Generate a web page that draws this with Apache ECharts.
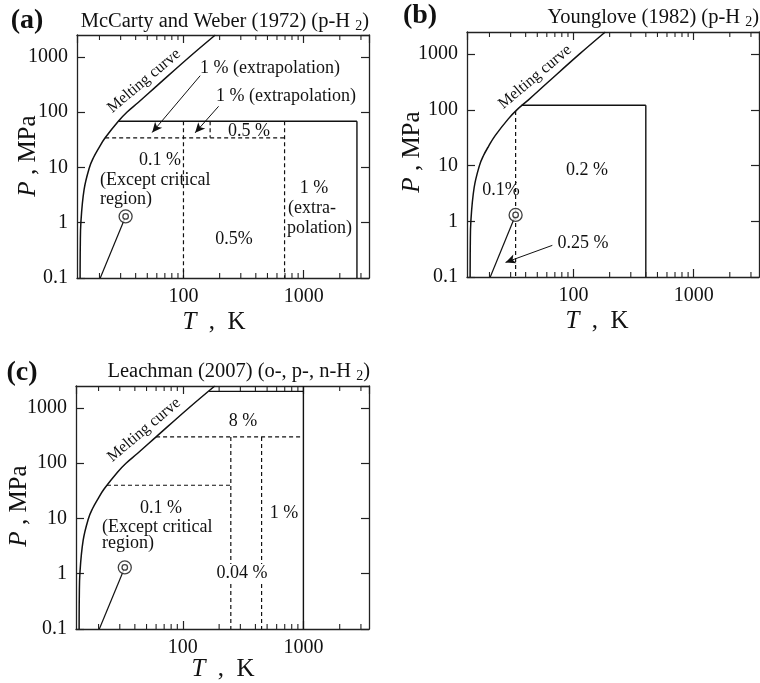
<!DOCTYPE html>
<html>
<head>
<meta charset="utf-8">
<script src="https://cdn.jsdelivr.net/npm/echarts@6/dist/echarts.min.js"></script>
<style>
  html, body { margin: 0; padding: 0; background: #fff; }
  #chart { width: 760px; height: 683px; }
</style>
</head>
<body>
<div id="chart"></div>
<script>
// ---- shared curves (T in K, P in MPa) ----
const meltT = [13.8, 13.85, 14.0, 14.9, 16.5, 17.8, 19.6, 22.3, 28.7, 33.8, 42, 60, 112, 184];
const meltP = [0.1, 0.4, 1, 4, 10, 15, 22, 34.5, 68.9, 100, 150, 300, 1000, 2500];
const vapT = [20.3, 33];
const vapP = [0.1, 1.3];
const critT = 33;
const critP = 1.3;

// ---- axis ranges and tick values ----
const tRange = [13, 3500];
const pRange = [0.1, 2500];
const minorT = [20, 30, 40, 50, 60, 70, 80, 90, 200, 300, 400, 500, 600, 700, 800, 900, 2000, 3000];

// ---- (a) McCarty and Weber: range boundaries [from, to] ----
const aSolid = [[[28.7, 68.9], [2778, 68.9]], [[2778, 68.9], [2778, 0.1]]];
const aDashed = [
  [[22.3, 34.5], [694, 34.5]],
  [[100, 68.9], [100, 0.1]],
  [[166.7, 68.9], [166.7, 34.5]],
  [[694, 68.9], [694, 0.1]]
];
const aArrows = [[[137.8, 459], [54.9, 43]], [[196, 128], [125, 42.4]]];

// ---- (b) Younglove ----
const bSolid = [[[37, 121], [400, 121]], [[400, 121], [400, 0.1]]];
const bDashed = [[[33, 95], [33, 0.1]]];
const bArrows = [[[66.7, 0.37], [27.2, 0.183]]];

// ---- (c) Leachman ----
const cSolid = [[[165, 2000], [1000, 2000]], [[1000, 2500], [1000, 0.1]]];
const cDashed = [
  [[60, 300], [1000, 300]],
  [[23.5, 40], [250, 40]],
  [[250, 300], [250, 0.1]],
  [[450, 300], [450, 0.1]]
];
const cArrows = [];

const FONT = "'Liberation Serif', 'Times New Roman', Times, serif";
const INK = '#111';
const AX = '#222';

const grids = [
  { left: 77, top: 35, width: 292, height: 243 },
  { left: 467, top: 32, width: 292, height: 245 },
  { left: 76, top: 386, width: 293, height: 243 }
];

const fmt = v => String(+Number(v).toPrecision(3));

function axesFor(g) {
  const common = {
    type: 'log', logBase: 10, gridIndex: g,
    splitLine: { show: false },
    axisLine: { show: true, onZero: false, lineStyle: { color: AX, width: 1.3 } },
    axisTick: { show: true, inside: true, length: 8, lineStyle: { color: AX, width: 1.2 } }
  };
  const lbl = { color: INK, fontSize: 20, fontFamily: FONT, formatter: fmt };
  const xs = [
    Object.assign({}, common, { min: tRange[0], max: tRange[1], position: 'bottom',
      axisLabel: Object.assign({ show: true, margin: 9, showMinLabel: false, showMaxLabel: false }, lbl) }),
    Object.assign({}, common, { min: tRange[0], max: tRange[1], position: 'top', axisLabel: { show: false } })
  ];
  const ys = [
    Object.assign({}, common, { min: pRange[0], max: pRange[1], position: 'left',
      axisLabel: Object.assign({ show: true, margin: 9, showMaxLabel: false }, lbl) }),
    Object.assign({}, common, { min: pRange[0], max: pRange[1], position: 'right', axisLabel: { show: false } })
  ];
  return { xs, ys };
}

function seg(g, pts, dashed, w) {
  return {
    type: 'line', xAxisIndex: 2 * g, yAxisIndex: 2 * g, data: pts,
    symbol: 'none', silent: true, animation: false, z: 3,
    lineStyle: { color: INK, width: w || 1.3, type: dashed ? [4, 3] : 'solid' }
  };
}

function panelSeries(g, solid, dashed, arrows) {
  const s = [];
  // melting curve
  s.push({
    type: 'line', xAxisIndex: 2 * g, yAxisIndex: 2 * g,
    data: meltT.map((t, i) => [t, meltP[i]]),
    smooth: 0.4, symbol: 'none', animation: false, z: 4,
    lineStyle: { color: INK, width: 1.5 }
  });
  // vapour-pressure line up to the critical point
  s.push(seg(g, vapT.map((t, i) => [t, vapP[i]]), false, 1.2));
  solid.forEach(p => s.push(seg(g, p, false, 1.4)));
  dashed.forEach(p => s.push(seg(g, p, true, 1.2)));
  // critical point (double circle)
  s.push({
    type: 'scatter', xAxisIndex: 2 * g, yAxisIndex: 2 * g, data: [[critT, critP]],
    symbol: 'circle', symbolSize: 13, animation: false, z: 6,
    itemStyle: { color: '#fff', borderColor: INK, borderWidth: 1.3 }
  });
  s.push({
    type: 'scatter', xAxisIndex: 2 * g, yAxisIndex: 2 * g, data: [[critT, critP]],
    symbol: 'circle', symbolSize: 5.5, animation: false, z: 7,
    itemStyle: { color: '#fff', borderColor: INK, borderWidth: 1.3 }
  });
  // pointer arrows
  if (arrows.length) {
    s.push({
      type: 'line', xAxisIndex: 2 * g, yAxisIndex: 2 * g, data: [], animation: false,
      markLine: {
        silent: true, animation: false, symbol: ['none', 'arrow'], symbolSize: [7, 10],
        label: { show: false },
        lineStyle: { color: INK, width: 1, type: 'solid' },
        data: arrows.map(a => [{ coord: a[0] }, { coord: a[1] }])
      }
    });
  }
  // minor ticks on bottom and top edges
  s.push({
    type: 'custom', xAxisIndex: 2 * g, yAxisIndex: 2 * g, animation: false, silent: true, z: 5,
    data: minorT.map(t => [t, 1]),
    renderItem: (params, api) => {
      const cs = params.coordSys;
      const px = api.coord([api.value(0), 1])[0];
      const st = { stroke: AX, lineWidth: 1.1 };
      return {
        type: 'group', children: [
          { type: 'line', shape: { x1: px, y1: cs.y + cs.height, x2: px, y2: cs.y + cs.height - 5 }, style: st },
          { type: 'line', shape: { x1: px, y1: cs.y, x2: px, y2: cs.y + 5 }, style: st }
        ]
      };
    }
  });
  return s;
}

const xAxis = [], yAxis = [];
[0, 1, 2].forEach(g => {
  const a = axesFor(g);
  xAxis.push(...a.xs);
  yAxis.push(...a.ys);
});

const series = [
  ...panelSeries(0, aSolid, aDashed, aArrows),
  ...panelSeries(1, bSolid, bDashed, bArrows),
  ...panelSeries(2, cSolid, cDashed, cArrows)
];

// ---- text ----
function txt(text, x, y, opt) {
  const o = opt || {};
  return {
    type: 'text', x, y, rotation: o.rot || 0, z: o.z || 20,
    style: Object.assign({
      text, fill: INK, font: `${o.weight || 'normal'} ${o.size || 18}px ${FONT}`,
      align: o.align || 'center', verticalAlign: 'middle'
    }, o.bg ? { backgroundColor: '#fff', padding: [0, 1] } : {}, o.rich ? { rich: o.rich } : {})
  };
}

const titleRich = {
  n: { fontSize: 20.5, fontFamily: FONT, color: INK },
  s: { fontSize: 14, fontFamily: FONT, color: INK, padding: [9, 0, 0, 0] }
};
const axRich = {
  i: { fontSize: 25, fontFamily: FONT, fontStyle: 'italic', color: INK },
  n: { fontSize: 25, fontFamily: FONT, color: INK }
};

const meltRot = 40 * Math.PI / 180;

const graphic = [
  // panel letters and titles
  txt('(a)', 27, 21, { size: 28, weight: 'bold' }),
  txt('(b)', 420, 16, { size: 28, weight: 'bold' }),
  txt('(c)', 22, 373, { size: 28, weight: 'bold' }),
  txt('{n|McCarty and Weber (1972) (p-H }{s|2}{n|)}', 369, 22, { align: 'right', rich: titleRich }),
  txt('{n|Younglove (1982) (p-H }{s|2}{n|)}', 759, 18, { align: 'right', rich: titleRich }),
  txt('{n|Leachman (2007) (o-, p-, n-H }{s|2}{n|)}', 370, 372, { align: 'right', rich: titleRich }),

  // axis names
  txt('{i|P}{n| , MPa}', 28, 156, { rot: Math.PI / 2, rich: axRich }),
  txt('{i|P}{n| , MPa}', 412, 152, { rot: Math.PI / 2, rich: axRich }),
  txt('{i|P}{n| , MPa}', 19, 506, { rot: Math.PI / 2, rich: axRich }),
  txt('{i|T}{n|  ,  K}', 214, 322, { rich: axRich }),
  txt('{i|T}{n|  ,  K}', 597, 321, { rich: axRich }),
  txt('{i|T}{n|  ,  K}', 223, 669, { rich: axRich }),

  // melting-curve captions
  txt('Melting curve', 144, 81, { size: 16, rot: meltRot }),
  txt('Melting curve', 535, 77, { size: 16, rot: meltRot }),
  txt('Melting curve', 144, 430, { size: 16, rot: meltRot }),

  // (a) region labels
  txt('1 % (extrapolation)', 200, 68, { align: 'left' }),
  txt('1 % (extrapolation)', 216, 96, { align: 'left' }),
  txt('0.5 %', 249, 131),
  txt('0.1 %', 160, 160),
  txt('(Except critical', 100, 180, { align: 'left' }),
  txt('region)', 100, 199, { align: 'left' }),
  txt('1 %', 314, 188),
  txt('(extra-', 288, 208, { align: 'left' }),
  txt('polation)', 287, 228, { align: 'left' }),
  txt('0.5%', 234, 239),

  // (b) region labels
  txt('0.2 %', 587, 170),
  txt('0.1%', 501, 190),
  txt('0.25 %', 583, 243),

  // (c) region labels
  txt('8 %', 243, 421),
  txt('0.1 %', 161, 508),
  txt('(Except critical', 102, 527, { align: 'left' }),
  txt('region)', 102, 543, { align: 'left' }),
  txt('1 %', 284, 513),
  txt('0.04 %', 242, 573, { bg: true })
];

const chart = echarts.init(document.getElementById('chart'), null, { renderer: 'canvas' });
chart.setOption({
  animation: false,
  backgroundColor: '#fff',
  grid: grids,
  xAxis,
  yAxis,
  series,
  graphic
});
</script>
</body>
</html>
